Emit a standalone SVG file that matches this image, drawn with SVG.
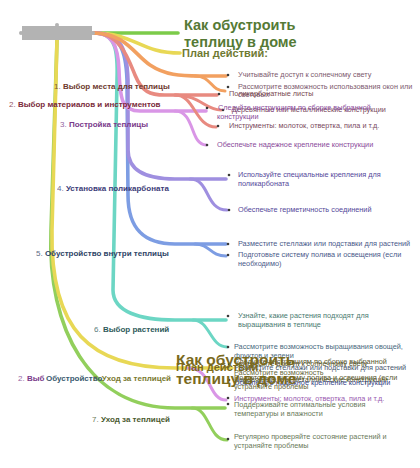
<svg xmlns="http://www.w3.org/2000/svg" width="420" height="468" viewBox="0 0 420 468">
<style>
.ln{fill:none;stroke-linecap:round;stroke-width:3.6}
.ch{fill:none;stroke-linecap:round;stroke-width:3}
.t{font-family:"Liberation Sans",Arial,sans-serif}
.lab{font-size:8px;font-weight:bold}
.num{font-weight:normal;opacity:.8}
.b{font-size:7.3px}
.dot{fill:#3a3a3a}
.title{font-size:14.5px;font-weight:bold}
.plan{font-size:11px;font-weight:bold}
</style>
<rect width="420" height="468" fill="#ffffff"/>
<g id="connectors">
  <path class="ln" stroke="#92cf5c" d="M57,40 L51,230 C47,330 90,408 175,408 H225"/>
  <path class="ch" stroke="#92cf5c" d="M192,408 C210,408 208,440 227,440"/>
  <path class="ln" stroke="#e8d855" d="M57,40 L52,230 C50,330 90,368 175,368 H232"/>
  <path class="ln" stroke="#7ccb4a" d="M94,33 H178"/>
  <path class="ln" stroke="#e8d855" d="M94,33 C135,33 140,53 180,53"/>
  <path class="ln" stroke="#6cd6c4" d="M94,33 C116,33 118,50 117,80 L113,290 C113,312 140,320 175,320 H226"/>
  <path class="ch" stroke="#6cd6c4" d="M193,320 C210,320 210,347 227,347"/>
  <path class="ln" stroke="#7d9de3" d="M94,33 C120,33 126,50 127,80 L128,195 C128,230 145,244 175,244 H226"/>
  <path class="ch" stroke="#7d9de3" d="M195,244 C210,244 210,256 226,256"/>
  <path class="ln" stroke="#9f8fe0" d="M94,33 C122,33 127,50 128,80 L128,150 C128,170 145,179 175,179 H226"/>
  <path class="ch" stroke="#9f8fe0" d="M190,179 C210,179 205,210 227,210"/>
  <path class="ln" stroke="#d996e6" d="M94,33 C112,33 118,45 119,70 C120,100 122,111 140,111 H206"/>
  <path class="ch" stroke="#d996e6" d="M175,111 C195,111 190,145 206,145"/>
  <path class="ch" stroke="#d996e6" d="M188,368 C212,368 208,400 226,400"/>
  <path class="ln" stroke="#e88a80" d="M94,33 C120,33 128,58 135,75 C142,92 150,95 165,95 H217"/>
  <path class="ch" stroke="#e88a80" d="M175,95 C200,95 205,110 221,110"/>
  <path class="ch" stroke="#e88a80" d="M175,95 C195,95 195,127 216,127"/>
  <path class="ln" stroke="#f2a060" d="M94,33 C125,33 135,55 150,65 C165,75 180,76 200,76 H226"/>
  <path class="ch" stroke="#f2a060" d="M195,76 C212,76 210,91 225,91"/>
</g>
<g id="root">
  <rect x="22" y="26" width="70" height="14" fill="#b3b3b3"/>
  <circle cx="21" cy="33" r="2" fill="#b3b3b3"/>
  <circle cx="93" cy="33" r="2" fill="#b3b3b3"/>
  <circle cx="57" cy="25" r="2" fill="#b3b3b3"/>
</g>
<g id="title" class="t">
  <text class="title" x="184" y="30" fill="#557a35">Как обустроить</text>
  <text class="title" x="184" y="47" fill="#557a35">теплицу в доме</text>
</g>
<g id="plan" class="t">
  <text class="plan" x="182" y="57" fill="#6f7a33">План действий:</text>
</g>
<g id="step1" class="t">
  <text class="lab" x="54" y="89" fill="#6e3a2e"><tspan class="num">1.</tspan> Выбор места для теплицы</text>
  <circle class="dot" cx="228" cy="75" r="1.3"/>
  <text class="b" x="238" y="77" fill="#7d5a6e">Учитывайте доступ к солнечному свету</text>
  <circle class="dot" cx="228" cy="87" r="1.3"/>
  <text class="b" x="238" y="89" fill="#7d5a6e">Рассмотрите возможность использования окон или</text>
  <text class="b" x="238" y="97" fill="#7d5a6e">световых</text>
</g>
<g id="step2" class="t">
  <text class="lab" x="9" y="107" fill="#7a2a3a"><tspan class="num">2.</tspan> Выбор материалов и инструментов</text>
  <circle class="dot" cx="219" cy="94" r="1.3"/>
  <text class="b" x="229" y="96" fill="#7a4a50">Поликарбонатные листы</text>
  <circle class="dot" cx="223" cy="110" r="1.3"/>
  <text class="b" x="232" y="112" fill="#7a4a60">Деревянные или металлические конструкции</text>
  <circle class="dot" cx="218" cy="126" r="1.3"/>
  <text class="b" x="229" y="128" fill="#7a4a60">Инструменты: молоток, отвертка, пила и т.д.</text>
</g>
<g id="step3" class="t">
  <text class="lab" x="60" y="127" fill="#7a3a8a"><tspan class="num">3.</tspan> Постройка теплицы</text>
  <circle class="dot" cx="207" cy="108" r="1.3"/>
  <text class="b" x="218" y="110" fill="#8a4a9a">Следуйте инструкциям по сборке выбранной</text>
  <text class="b" x="217" y="119" fill="#8a4a9a">конструкции</text>
  <circle class="dot" cx="207" cy="145" r="1.3"/>
  <text class="b" x="217" y="147" fill="#8a4a9a">Обеспечьте надежное крепление конструкции</text>
</g>
<g id="step4" class="t">
  <text class="lab" x="57" y="191" fill="#3c3c78"><tspan class="num">4.</tspan> Установка поликарбоната</text>
  <circle class="dot" cx="229" cy="175" r="1.3"/>
  <text class="b" x="238" y="177" fill="#54489a">Используйте специальные крепления для</text>
  <text class="b" x="238" y="186" fill="#54489a">поликарбоната</text>
  <circle class="dot" cx="229" cy="210" r="1.3"/>
  <text class="b" x="238" y="212" fill="#54489a">Обеспечьте герметичность соединений</text>
</g>
<g id="step5" class="t">
  <text class="lab" x="36" y="256" fill="#2e4466"><tspan class="num">5.</tspan> Обустройство внутри теплицы</text>
  <circle class="dot" cx="228" cy="244" r="1.3"/>
  <text class="b" x="238" y="246" fill="#4a5a8a">Разместите стеллажи или подставки для растений</text>
  <circle class="dot" cx="228" cy="255" r="1.3"/>
  <text class="b" x="238" y="257" fill="#4a5a8a">Подготовьте систему полива и освещения (если</text>
  <text class="b" x="238" y="266" fill="#4a5a8a">необходимо)</text>
</g>
<g id="step6" class="t">
  <text class="lab" x="94" y="332" fill="#2e5a5a"><tspan class="num">6.</tspan> Выбор растений</text>
  <circle class="dot" cx="228" cy="316" r="1.3"/>
  <text class="b" x="238" y="318" fill="#4a7a70">Узнайте, какие растения подходят для</text>
  <text class="b" x="238" y="327" fill="#4a7a70">выращивания в теплице</text>
  <circle class="dot" cx="228" cy="347" r="1.3"/>
  <text class="b" x="234" y="349" fill="#4a6a80">Рассмотрите возможность выращивания овощей,</text>
  <text class="b" x="234" y="358" fill="#4a6a80">фруктов и зелени</text>
</g>
<g id="ghost" class="t">
  <text class="lab" x="18" y="381" fill="#7a3a8a"><tspan class="num">2.</tspan> Выб</text>
  <text class="lab" x="46" y="381" fill="#3a5a70">Обустройство</text>
  <text class="lab" x="171" y="381" text-anchor="end" fill="#7a7a30"><tspan class="num">7.</tspan> Уход за теплицей</text>
  <circle class="dot" cx="229" cy="364" r="1.3"/>
  <text class="b" x="234" y="364" fill="#5a5a30">Следуйте инструкциям по сборке выбранной</text>
  <text class="b" x="234" y="366" fill="#5a5a30">Учитывайте доступ к солнечному свету</text>
  <text class="b" x="234" y="370" fill="#4a5a70">Разместите стеллажи или подставки для растений</text>
  <text class="b" x="234" y="375" fill="#6a6a40">Рассмотрите возможность</text>
  <circle class="dot" cx="229" cy="380" r="1.3"/>
  <text class="b" x="234" y="380" fill="#5a5a30">Подготовьте систему полива и освещения (если</text>
  <text class="b" x="234" y="382" fill="#5a5a30">Деревянные или металлические конструкции</text>
  <text class="b" x="234" y="385" fill="#3a4a8a">Обеспечьте надежное крепление конструкции</text>
  <text class="b" x="234" y="389" fill="#6a6a40">устраняйте проблемы</text>
  <circle class="dot" cx="228" cy="398" r="1.3"/>
  <text class="b" x="234" y="401" fill="#9a5ab0">Инструменты; молоток, отвертка, пила и т.д.</text>
  <text class="title" x="176" y="365" fill="#7a6a1e" style="font-size:15.5px">Как обустроить</text>
  <text class="plan" x="176" y="371" fill="#7a6a1e">План действий:</text>
  <text class="title" x="176" y="384" fill="#7a6a1e" style="font-size:15.5px">теплицу в доме</text>
</g>
<g id="step7" class="t">
  <text class="lab" x="92" y="422" fill="#4a5a2e"><tspan class="num">7.</tspan> Уход за теплицей</text>
  <circle class="dot" cx="228" cy="404" r="1.3"/>
  <text class="b" x="234" y="407" fill="#6a7a5a">Поддерживайте оптимальные условия</text>
  <text class="b" x="234" y="416" fill="#6a7a5a">температуры и влажности</text>
  <circle class="dot" cx="228" cy="439" r="1.3"/>
  <text class="b" x="234" y="439" fill="#6a7a5a">Регулярно проверяйте состояние растений и</text>
  <text class="b" x="234" y="448" fill="#6a7a5a">устраняйте проблемы</text>
</g>
</svg>
